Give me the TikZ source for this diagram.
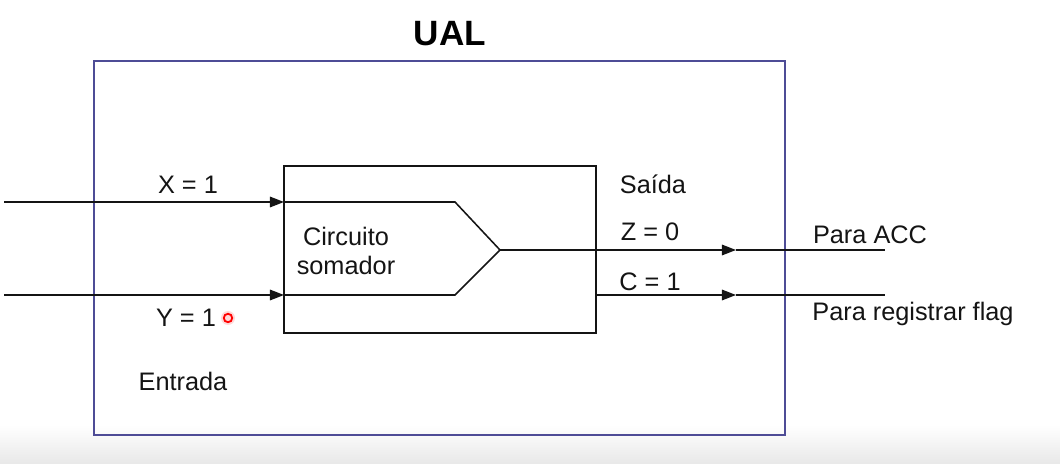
\documentclass[tikz,border=0pt]{standalone}
\usepackage{fontspec}
\setmainfont{Liberation Sans}
\usetikzlibrary{arrows.meta}
\definecolor{ualBlue}{RGB}{78,76,150}
\definecolor{wireBlack}{RGB}{20,20,20}

\begin{document}
\begin{tikzpicture}[x = 0.025cm, y = -0.025cm]
	\tikzstyle{frameStyle} = [draw = ualBlue, line width = 1.5pt]
	\tikzstyle{boxStyle} = [draw = wireBlack, line width = 1.1pt]
	\tikzstyle{wireStyle} = [draw = wireBlack, line width = 1.1pt]
	\tikzstyle{arrowStyle} = [wireStyle, -{Triangle[length = 10pt, width = 7.5pt]}]
	\tikzstyle{labelStyle} = [inner sep = 0pt, text = wireBlack, font = \fontsize{18}{21}\selectfont]
	\tikzstyle{titleStyle} = [inner sep = 0pt, text = black, font = \fontsize{25}{28}\bfseries\selectfont]
	\useasboundingbox (0,0) rectangle (1060,464);
	\shade[top color = white, bottom color = black!9] (0,425) rectangle (1060,464);
	% frame and adder
	\draw[frameStyle] (94,61) rectangle (785,435);
	\draw[boxStyle] (284,166) rectangle (596,333);
	\coordinate (xin) at (4,202);
	\coordinate (xbox) at (284,202);
	\coordinate (yin) at (4,295);
	\coordinate (ybox) at (284,295);
	\coordinate (xtop) at (455,202);
	\coordinate (sum) at (500,250);
	\coordinate (ybot) at (455,295);
	\coordinate (cbox) at (596,295);
	\coordinate (zmid) at (736,250);
	\coordinate (cmid) at (736,295);
	\coordinate (zout) at (885,250);
	\coordinate (cout) at (885,295);
	\draw[wireStyle] (xbox) -- (xtop) -- (sum) -- (ybot) -- (ybox);
	\draw[arrowStyle] (xin) -- (xbox);
	\draw[arrowStyle] (yin) -- (ybox);
	\draw[arrowStyle] (sum) -- (zmid);
	\draw[wireStyle] (zmid) -- (zout);
	\draw[arrowStyle] (cbox) -- (cmid);
	\draw[wireStyle] (cmid) -- (cout);
	% labels
	\node[titleStyle] (ual) at (450,34) {UAL};
	\node[labelStyle] (xlab) at (188,185) {X = 1};
	\node[labelStyle] (ylab) at (186,318) {Y = 1};
	\node[labelStyle] (entrada) at (183,381) {Entrada};
	\node[labelStyle, align = center] (circ) at (346,251) {Circuito\\somador};
	\node[labelStyle] (saida) at (653,184) {Saída};
	\node[labelStyle] (zlab) at (650,232) {Z = 0};
	\node[labelStyle] (clab) at (650,282) {C = 1};
	\node[labelStyle] (acc) at (870,235) {Para ACC};
	\node[labelStyle] (flag) at (913,314) {Para registrar flag};
	% pointer
	\fill[red!25, opacity = 0.6] (228,318) circle (7);
	\node[circle, draw = red, line width = 1.3pt, minimum size = 6pt, inner sep = 0pt] (ptr) at (228,318) {};
\end{tikzpicture}
\end{document}
